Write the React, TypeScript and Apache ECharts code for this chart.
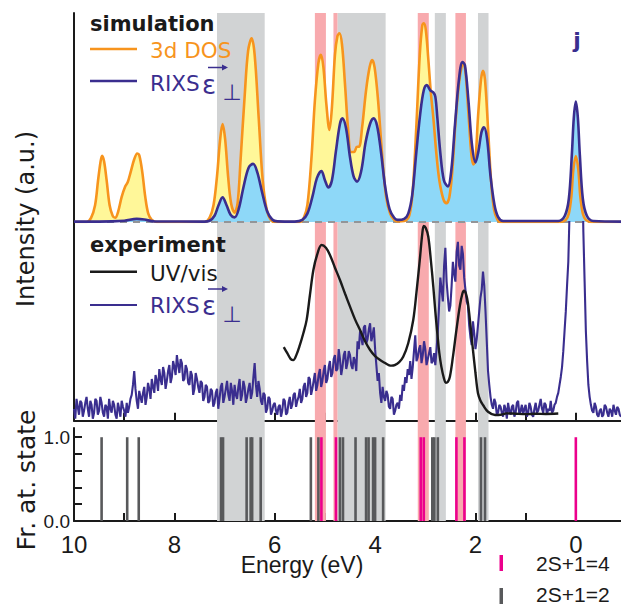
import React, { useEffect, useRef } from 'react';
import * as echarts from 'echarts';

// ---------- axis ranges / ticks ----------
const E_MIN = -0.9;
const E_MAX = 10;
const xTickValues = [0, 1, 2, 3, 4, 5, 6, 7, 8, 9, 10];
const xLabelValues = [0, 2, 4, 6, 8, 10];
const yStickTicks = [0, 0.2, 0.4, 0.6, 0.8, 1.0];
const yStickLabels = [0, 1];

// ---------- shaded bands (eV ranges) ----------
const grayBands: [number, number][] = [[7.15, 6.2], [4.75, 3.79], [2.81, 2.59], [1.95, 1.74]];
const pinkBands: [number, number][] = [[5.2, 4.98], [4.83, 4.75], [3.15, 2.93], [2.4, 2.19]];

// ---------- simulation: 3d DOS ----------
const dosSim: [number, number][] = [
  [10.0, 0], [9.75, 0], [9.66, 0.02], [9.58, 0.08], [9.52, 0.2], [9.47, 0.29], [9.44, 0.317], [9.4, 0.29], [9.35, 0.2], [9.29, 0.08], [9.23, 0.03], [9.18, 0.02], [9.12, 0.05], [9.05, 0.12], [8.98, 0.17], [8.93, 0.19], [8.87, 0.24], [8.8, 0.3], [8.74, 0.328], [8.7, 0.32], [8.64, 0.24], [8.58, 0.12], [8.52, 0.04], [8.45, 0.01], [8.35, 0],
  [7.4, 0], [7.3, 0.02], [7.22, 0.08], [7.15, 0.22], [7.09, 0.39], [7.04, 0.469], [6.99, 0.4], [6.93, 0.22], [6.87, 0.09], [6.8, 0.045], [6.74, 0.09], [6.68, 0.3], [6.6, 0.6], [6.53, 0.82], [6.46, 0.879], [6.4, 0.8], [6.32, 0.5], [6.24, 0.2], [6.16, 0.06], [6.08, 0.01], [6.0, 0],
  [5.5, 0], [5.42, 0.02], [5.35, 0.08], [5.27, 0.3], [5.2, 0.58], [5.13, 0.76], [5.08, 0.8], [5.03, 0.74], [4.97, 0.56], [4.91, 0.44], [4.86, 0.55], [4.8, 0.8], [4.75, 0.89], [4.71, 0.903], [4.66, 0.85], [4.6, 0.66], [4.54, 0.45], [4.48, 0.335], [4.42, 0.335], [4.36, 0.36], [4.32, 0.36], [4.26, 0.45], [4.18, 0.63], [4.11, 0.74], [4.06, 0.775], [4.01, 0.74], [3.94, 0.58], [3.86, 0.32], [3.78, 0.12], [3.7, 0.04], [3.62, 0.01], [3.55, 0.003], [3.42, 0.005],
  [3.32, 0.03], [3.25, 0.15], [3.18, 0.45], [3.11, 0.8], [3.06, 0.94], [3.03, 0.951], [2.99, 0.92], [2.94, 0.78], [2.89, 0.62], [2.84, 0.5], [2.78, 0.33], [2.72, 0.2], [2.64, 0.11], [2.58, 0.09], [2.52, 0.12], [2.46, 0.25], [2.4, 0.47], [2.33, 0.66], [2.27, 0.75], [2.24, 0.76], [2.2, 0.72], [2.14, 0.52], [2.08, 0.32], [2.04, 0.275], [2.0, 0.3], [1.95, 0.5], [1.89, 0.68], [1.85, 0.724], [1.81, 0.68], [1.75, 0.45], [1.69, 0.2], [1.63, 0.06], [1.56, 0.01], [1.5, 0],
  [0.3, 0], [0.2, 0.01], [0.14, 0.04], [0.09, 0.12], [0.05, 0.25], [0.0, 0.316], [-0.05, 0.25], [-0.09, 0.12], [-0.14, 0.04], [-0.2, 0.01], [-0.3, 0], [-0.9, 0],
];

// ---------- simulation: RIXS ----------
const rixsSim: [number, number][] = [
  [10.0, 0.002], [9.5, 0.002], [9.0, 0.006], [8.75, 0.015], [8.6, 0.012], [8.4, 0.003], [7.4, 0.002],
  [7.3, 0.006], [7.2, 0.03], [7.12, 0.08], [7.04, 0.118], [6.96, 0.08], [6.88, 0.035], [6.8, 0.022], [6.72, 0.06], [6.62, 0.17], [6.52, 0.26], [6.43, 0.278], [6.35, 0.24], [6.25, 0.14], [6.15, 0.05], [6.05, 0.012], [5.95, 0.003], [5.6, 0.002],
  [5.45, 0.01], [5.35, 0.04], [5.25, 0.12], [5.16, 0.21], [5.07, 0.244], [5.0, 0.2], [4.93, 0.165], [4.86, 0.2], [4.78, 0.34], [4.7, 0.47], [4.65, 0.496], [4.58, 0.45], [4.5, 0.31], [4.43, 0.22], [4.36, 0.193], [4.28, 0.24], [4.19, 0.38], [4.1, 0.47], [4.03, 0.496], [3.96, 0.46], [3.88, 0.33], [3.8, 0.17], [3.71, 0.06], [3.62, 0.02], [3.55, 0.01], [3.42, 0.015],
  [3.34, 0.04], [3.26, 0.13], [3.18, 0.33], [3.1, 0.52], [3.03, 0.63], [2.97, 0.655], [2.9, 0.63], [2.84, 0.62], [2.8, 0.6], [2.76, 0.5], [2.7, 0.33], [2.63, 0.2], [2.55, 0.17], [2.48, 0.25], [2.41, 0.46], [2.33, 0.68], [2.26, 0.765], [2.21, 0.75], [2.14, 0.58], [2.07, 0.37], [2.0, 0.285], [1.94, 0.34], [1.88, 0.43], [1.83, 0.453], [1.77, 0.4], [1.7, 0.22], [1.62, 0.08], [1.55, 0.025], [1.45, 0.005],
  [0.35, 0.005], [0.22, 0.03], [0.14, 0.11], [0.08, 0.32], [0.04, 0.5], [0.0, 0.576], [-0.04, 0.5], [-0.08, 0.32], [-0.14, 0.11], [-0.22, 0.03], [-0.35, 0.005], [-0.9, 0.002],
];

// ---------- experiment: UV/vis ----------
const uvVis: [number, number][] = [
  [5.82, 0.37], [5.75, 0.34], [5.68, 0.31], [5.63, 0.305], [5.57, 0.33], [5.5, 0.38], [5.43, 0.44], [5.365, 0.506], [5.3, 0.63], [5.23, 0.758], [5.15, 0.84], [5.066, 0.884], [4.98, 0.87], [4.9, 0.834], [4.8, 0.77], [4.7, 0.708], [4.6, 0.64], [4.5, 0.574], [4.4, 0.51], [4.3, 0.456], [4.2, 0.4], [4.1, 0.356], [4.0, 0.325], [3.9, 0.305], [3.8, 0.29], [3.73, 0.28], [3.67, 0.277], [3.61, 0.28], [3.52, 0.295], [3.44, 0.322], [3.34, 0.39], [3.24, 0.507], [3.17, 0.66], [3.11, 0.808], [3.06, 0.94], [3.03, 0.98], [2.99, 0.97], [2.94, 0.926], [2.89, 0.81], [2.84, 0.674], [2.8, 0.55], [2.76, 0.44], [2.72, 0.34], [2.68, 0.272], [2.63, 0.215], [2.59, 0.191], [2.55, 0.195], [2.51, 0.221], [2.45, 0.32], [2.38, 0.456], [2.31, 0.58], [2.26, 0.64], [2.23, 0.654], [2.19, 0.64], [2.15, 0.591], [2.1, 0.48], [2.05, 0.356], [2.0, 0.24], [1.95, 0.138], [1.9, 0.1], [1.85, 0.079], [1.75, 0.045], [1.61, 0.029], [1.5, 0.03], [1.38, 0.037], [1.2, 0.035], [1.0, 0.033], [0.8, 0.035], [0.6, 0.034], [0.35, 0.036],
];

// ---------- experiment: RIXS (noisy, read point by point) ----------
const rixsExp: [number, number][] = [
  [10.0, 0.06], [9.975, 0.01], [9.95, 0.11], [9.925, 0.07], [9.9, 0.03], [9.875, 0.1], [9.85, 0.09], [9.825, 0.02], [9.8, 0.05], [9.775, 0.09], [9.75, 0.12], [9.725, 0.06], [9.7, 0.02], [9.675, 0.1], [9.65, 0.08], [9.625, 0.01], [9.6, 0.04], [9.575, 0.11], [9.55, 0.1], [9.525, 0.03],
  [9.5, 0.05], [9.475, 0.12], [9.45, 0.09], [9.425, 0.04], [9.4, 0.02], [9.375, 0.08], [9.35, 0.07], [9.325, 0.01], [9.3, 0.11], [9.275, 0.06], [9.25, 0.04], [9.225, 0.1], [9.2, 0.08], [9.175, 0.03], [9.15, 0.01], [9.125, 0.09], [9.1, 0.06], [9.075, 0.02], [9.05, 0.1], [9.025, 0.07],
  [9.0, 0.05], [8.975, 0.02], [8.95, 0.09], [8.925, 0.04], [8.9, 0.07], [8.875, 0.11], [8.85, 0.13], [8.825, 0.18], [8.8, 0.25], [8.775, 0.16], [8.75, 0.1], [8.725, 0.06], [8.7, 0.15], [8.675, 0.12], [8.65, 0.09], [8.625, 0.14], [8.6, 0.17], [8.575, 0.08], [8.55, 0.12], [8.525, 0.19],
  [8.5, 0.16], [8.475, 0.11], [8.45, 0.21], [8.425, 0.17], [8.4, 0.14], [8.375, 0.23], [8.35, 0.2], [8.325, 0.15], [8.3, 0.26], [8.275, 0.21], [8.25, 0.18], [8.225, 0.27], [8.2, 0.24], [8.175, 0.16], [8.15, 0.2], [8.125, 0.25], [8.1, 0.28], [8.075, 0.19], [8.05, 0.22], [8.025, 0.3],
  [8.0, 0.27], [7.975, 0.23], [7.95, 0.33], [7.925, 0.28], [7.9, 0.24], [7.875, 0.31], [7.85, 0.29], [7.825, 0.2], [7.8, 0.21], [7.775, 0.28], [7.75, 0.26], [7.725, 0.19], [7.7, 0.18], [7.675, 0.25], [7.65, 0.23], [7.625, 0.13], [7.6, 0.16], [7.575, 0.24], [7.55, 0.21], [7.525, 0.17],
  [7.5, 0.14], [7.475, 0.2], [7.45, 0.19], [7.425, 0.1], [7.4, 0.12], [7.375, 0.18], [7.35, 0.17], [7.325, 0.09], [7.3, 0.1], [7.275, 0.16], [7.25, 0.15], [7.225, 0.07], [7.2, 0.09], [7.175, 0.14], [7.15, 0.16], [7.125, 0.06], [7.1, 0.11], [7.075, 0.17], [7.05, 0.19], [7.025, 0.09],
  [7.0, 0.12], [6.975, 0.16], [6.95, 0.2], [6.925, 0.13], [6.9, 0.1], [6.875, 0.19], [6.85, 0.15], [6.825, 0.08], [6.8, 0.18], [6.775, 0.13], [6.75, 0.11], [6.725, 0.17], [6.7, 0.21], [6.675, 0.1], [6.65, 0.13], [6.625, 0.2], [6.6, 0.17], [6.575, 0.09], [6.55, 0.12], [6.525, 0.16],
  [6.5, 0.19], [6.475, 0.11], [6.45, 0.14], [6.425, 0.22], [6.4, 0.29], [6.375, 0.18], [6.35, 0.12], [6.325, 0.2], [6.3, 0.16], [6.275, 0.1], [6.25, 0.08], [6.225, 0.14], [6.2, 0.13], [6.175, 0.04], [6.15, 0.06], [6.125, 0.12], [6.1, 0.11], [6.075, 0.03], [6.05, 0.05], [6.025, 0.08],
  [6.0, 0.09], [5.975, 0.05], [5.95, 0.03], [5.925, 0.07], [5.9, 0.08], [5.875, 0.02], [5.85, 0.05], [5.825, 0.11], [5.8, 0.1], [5.775, 0.03], [5.75, 0.04], [5.725, 0.09], [5.7, 0.12], [5.675, 0.06], [5.65, 0.08], [5.625, 0.13], [5.6, 0.14], [5.575, 0.07], [5.55, 0.1], [5.525, 0.12],
  [5.5, 0.16], [5.475, 0.09], [5.45, 0.11], [5.425, 0.17], [5.4, 0.19], [5.375, 0.12], [5.35, 0.14], [5.325, 0.22], [5.3, 0.21], [5.275, 0.13], [5.25, 0.16], [5.225, 0.2], [5.2, 0.24], [5.175, 0.15], [5.15, 0.18], [5.125, 0.23], [5.1, 0.26], [5.075, 0.17], [5.05, 0.2], [5.025, 0.25],
  [5.0, 0.28], [4.975, 0.19], [4.95, 0.21], [4.925, 0.27], [4.9, 0.3], [4.875, 0.22], [4.85, 0.24], [4.825, 0.31], [4.8, 0.33], [4.775, 0.25], [4.75, 0.26], [4.725, 0.36], [4.7, 0.31], [4.675, 0.23], [4.65, 0.27], [4.625, 0.33], [4.6, 0.35], [4.575, 0.26], [4.55, 0.29], [4.525, 0.35],
  [4.5, 0.33], [4.475, 0.28], [4.45, 0.26], [4.425, 0.32], [4.4, 0.3], [4.375, 0.25], [4.35, 0.4], [4.325, 0.36], [4.3, 0.45], [4.275, 0.42], [4.25, 0.38], [4.225, 0.47], [4.2, 0.48], [4.175, 0.39], [4.15, 0.41], [4.125, 0.46], [4.1, 0.49], [4.075, 0.4], [4.05, 0.43], [4.025, 0.47],
  [4.0, 0.36], [3.975, 0.28], [3.95, 0.2], [3.925, 0.24], [3.9, 0.14], [3.875, 0.09], [3.85, 0.17], [3.825, 0.12], [3.8, 0.1], [3.775, 0.15], [3.75, 0.13], [3.725, 0.07], [3.7, 0.06], [3.675, 0.12], [3.65, 0.11], [3.625, 0.03], [3.6, 0.05], [3.575, 0.08], [3.55, 0.09], [3.525, 0.06],
  [3.5, 0.13], [3.475, 0.1], [3.45, 0.18], [3.425, 0.15], [3.4, 0.22], [3.375, 0.19], [3.35, 0.26], [3.325, 0.23], [3.3, 0.3], [3.275, 0.21], [3.25, 0.27], [3.225, 0.35], [3.2, 0.43], [3.175, 0.3], [3.15, 0.32], [3.125, 0.36], [3.1, 0.38], [3.075, 0.29], [3.05, 0.33], [3.025, 0.4],
  [3.0, 0.36], [2.975, 0.28], [2.95, 0.31], [2.925, 0.34], [2.9, 0.37], [2.875, 0.29], [2.85, 0.3], [2.825, 0.34], [2.8, 0.28], [2.775, 0.36], [2.75, 0.45], [2.725, 0.58], [2.7, 0.72], [2.675, 0.66], [2.65, 0.6], [2.625, 0.78], [2.6, 0.87], [2.575, 0.7], [2.55, 0.62], [2.525, 0.55],
  [2.5, 0.58], [2.475, 0.68], [2.45, 0.8], [2.425, 0.74], [2.4, 0.7], [2.375, 0.85], [2.35, 0.9], [2.325, 0.78], [2.3, 0.76], [2.275, 0.88], [2.25, 0.84], [2.225, 0.72], [2.2, 0.66], [2.175, 0.6], [2.15, 0.58], [2.125, 0.48], [2.1, 0.42], [2.075, 0.38], [2.05, 0.5], [2.025, 0.44],
  [2.0, 0.36], [1.975, 0.41], [1.95, 0.48], [1.925, 0.55], [1.9, 0.62], [1.875, 0.66], [1.85, 0.75], [1.825, 0.68], [1.8, 0.55], [1.775, 0.4], [1.75, 0.25], [1.725, 0.18], [1.7, 0.12], [1.675, 0.08], [1.65, 0.06], [1.625, 0.11], [1.6, 0.09], [1.575, 0.03], [1.55, 0.04], [1.525, 0.08],
  [1.5, 0.07], [1.475, 0.04], [1.45, 0.02], [1.425, 0.08], [1.4, 0.06], [1.375, 0.01], [1.35, 0.09], [1.325, 0.05], [1.3, 0.03], [1.275, 0.07], [1.25, 0.08], [1.225, 0.02], [1.2, 0.04], [1.175, 0.09], [1.15, 0.1], [1.125, 0.03], [1.1, 0.05], [1.075, 0.08], [1.05, 0.03], [1.025, 0.06],
  [1.0, 0.08], [0.975, 0.02], [0.95, 0.04], [0.925, 0.09], [0.9, 0.07], [0.875, 0.03], [0.85, 0.02], [0.825, 0.06], [0.8, 0.09], [0.775, 0.04], [0.75, 0.05], [0.725, 0.08], [0.7, 0.11], [0.675, 0.06], [0.65, 0.04], [0.625, 0.09], [0.6, 0.08], [0.575, 0.03], [0.55, 0.06], [0.525, 0.05],
  [0.5, 0.1], [0.475, 0.04], [0.45, 0.05], [0.425, 0.08], [0.4, 0.09], [0.375, 0.12], [0.35, 0.14], [0.325, 0.18], [0.3, 0.22], [0.275, 0.27], [0.25, 0.35], [0.225, 0.45], [0.2, 0.55], [0.175, 0.68], [0.15, 0.8], [0.125, 1.05], [0.1, 1.4], [0.075, 1.7], [0.05, 2.0], [0.025, 2.2],
  [0.0, 2.4], [-0.025, 2.35], [-0.05, 2.2], [-0.075, 1.9], [-0.1, 1.6], [-0.125, 1.3], [-0.15, 0.95], [-0.175, 0.7], [-0.2, 0.45], [-0.225, 0.3], [-0.25, 0.18], [-0.275, 0.12], [-0.3, 0.08], [-0.325, 0.05], [-0.35, 0.04], [-0.375, 0.09], [-0.4, 0.07], [-0.425, 0.03], [-0.45, 0.02], [-0.475, 0.05],
  [-0.5, 0.06], [-0.525, 0.02], [-0.55, 0.03], [-0.575, 0.08], [-0.6, 0.07], [-0.625, 0.04], [-0.65, 0.02], [-0.675, 0.06], [-0.7, 0.05], [-0.725, 0.02], [-0.75, 0.08], [-0.775, 0.05], [-0.8, 0.03], [-0.825, 0.07], [-0.85, 0.06], [-0.875, 0.03], [-0.9, 0.02],
];

// ---------- stick spectrum (fraction of atomic state) ----------
const quartetSticks: [number, number][] = [
  [5.07, 1], [4.78, 1], [3.09, 1], [3.03, 1], [2.38, 1], [2.22, 1], [0.0, 1],
];
const doubletSticks: [number, number][] = [
  [9.45, 1], [8.94, 1], [8.71, 1], [7.07, 1], [7.03, 1], [6.56, 1], [6.48, 1], [6.45, 1], [6.28, 1], [5.28, 1], [5.13, 1],
  [4.7, 1], [4.64, 1], [4.39, 1], [4.18, 1], [4.13, 1], [4.04, 1], [4.0, 1], [3.84, 1], [2.86, 1], [2.82, 1], [2.75, 1],
  [1.89, 1], [1.81, 1],
];

const ORANGE = '#f7941d';
const YELLOW = '#fff799';
const LIGHTBLUE = '#8ed8f8';
const DARKBLUE = '#3a2e8f';
const GRAYBAND = '#d1d3d4';
const PINKBAND = '#f8aaae';
const STICKGRAY = '#58595b';
const MAGENTA = '#ec008c';
const DASH = '#939598';
const BLACK = '#1a1a1a';

const LEFT = 74;

function xAxisFor(gridIndex: number, show: boolean, showLabels: boolean) {
  return {
    type: 'value',
    gridIndex,
    min: E_MIN,
    max: E_MAX,
    inverse: true,
    show,
    splitLine: { show: false },
    axisLine: { show, onZero: false, lineStyle: { color: BLACK, width: 2 } },
    axisTick: {
      show,
      inside: true,
      length: 8,
      customValues: xTickValues,
      lineStyle: { color: BLACK, width: 2 },
    },
    axisLabel: {
      show: showLabels,
      customValues: xLabelValues,
      formatter: (v: number) => String(v),
      fontFamily: 'Liberation Sans',
      fontSize: 24,
      color: BLACK,
      margin: 11,
    },
  };
}

function plainY(gridIndex: number, max: number, show: boolean) {
  return {
    type: 'value',
    gridIndex,
    min: 0,
    max,
    show,
    splitLine: { show: false },
    axisLine: { show, onZero: false, lineStyle: { color: BLACK, width: 2 } },
    axisTick: { show: false },
    axisLabel: { show: false },
  };
}

function stickSeries(data: [number, number][], color: string) {
  return {
    type: 'custom',
    xAxisIndex: 3,
    yAxisIndex: 3,
    data,
    z: 5,
    renderItem: (params: any, api: any) => {
      const e = api.value(0);
      const top = api.coord([e, api.value(1)]);
      const bot = api.coord([e, 0]);
      return {
        type: 'line',
        shape: { x1: top[0], y1: top[1], x2: bot[0], y2: bot[1] },
        style: { stroke: color, lineWidth: 2.6 },
      };
    },
  };
}

const TOPZ = 100;

function rixsLabel(x: number, yc: number) {
  return [
    { type: 'text', z: TOPZ, style: { text: 'RIXS', x, y: yc, fill: DARKBLUE, font: '21.5px "DejaVu Sans"', verticalAlign: 'middle' } },
    { type: 'text', z: TOPZ, style: { text: 'ε', x: x + 52, y: yc + 1, fill: DARKBLUE, font: '26px "DejaVu Sans"', verticalAlign: 'middle' } },
    { type: 'line', z: TOPZ, shape: { x1: x + 58, y1: yc - 16, x2: x + 76, y2: yc - 16 }, style: { stroke: DARKBLUE, lineWidth: 1.5 } },
    { type: 'polygon', z: TOPZ, shape: { points: [[x + 78, yc - 16], [x + 72, yc - 19], [x + 72, yc - 13]] }, style: { fill: DARKBLUE } },
    { type: 'text', z: TOPZ, style: { text: '⊥', x: x + 82, y: yc + 9, fill: DARKBLUE, font: '22px "DejaVu Sans"', align: 'center', verticalAlign: 'middle' } },
  ];
}

export default function App() {
  const ref = useRef<HTMLDivElement>(null);
  useEffect(() => {
    if (!ref.current) return;
    const chart = echarts.init(ref.current, undefined, { renderer: 'svg' });
    const bandData = [
      ...grayBands.map((b) => [{ xAxis: b[0], itemStyle: { color: GRAYBAND } }, { xAxis: b[1] }]),
      ...pinkBands.map((b) => [{ xAxis: b[0], itemStyle: { color: PINKBAND } }, { xAxis: b[1] }]),
    ];
    const option: any = {
      animation: false,
      backgroundColor: '#ffffff',
      grid: [
        { left: LEFT, right: 0, top: 13, height: 508 },
        { left: LEFT, right: 0, top: 13, height: 209 },
        { left: LEFT, right: 0, top: 222, height: 198.7 },
        { left: LEFT, right: 0, top: 428, height: 93 },
      ],
      xAxis: [
        xAxisFor(0, false, false),
        xAxisFor(1, false, false),
        xAxisFor(2, true, false),
        xAxisFor(3, true, true),
      ],
      yAxis: [
        plainY(0, 1, false),
        plainY(1, 1, true),
        plainY(2, 1, true),
        {
          type: 'value',
          gridIndex: 3,
          min: 0,
          max: 1.11,
          splitLine: { show: false },
          axisLine: { show: true, onZero: false, lineStyle: { color: BLACK, width: 2 } },
          axisTick: { show: true, inside: true, length: 8, customValues: yStickTicks, lineStyle: { color: BLACK, width: 2 } },
          axisLabel: {
            show: true,
            customValues: yStickLabels,
            formatter: (v: number) => v.toFixed(1),
            fontFamily: 'Liberation Sans',
            fontSize: 19,
            color: BLACK,
            margin: 4,
          },
        },
      ],
      series: [
        {
          type: 'line',
          xAxisIndex: 0,
          yAxisIndex: 0,
          data: [],
          z: -1,
          silent: true,
          markArea: { silent: true, data: bandData, itemStyle: { opacity: 1 } },
        },
        {
          type: 'line', xAxisIndex: 1, yAxisIndex: 1, data: dosSim, smooth: 0.35, showSymbol: false, z: 2,
          lineStyle: { width: 0, opacity: 0 }, areaStyle: { color: YELLOW, opacity: 1 },
        },
        {
          type: 'line', xAxisIndex: 1, yAxisIndex: 1, data: rixsSim, smooth: 0.35, showSymbol: false, z: 3,
          lineStyle: { width: 0, opacity: 0 }, areaStyle: { color: LIGHTBLUE, opacity: 1 },
        },
        {
          type: 'line', xAxisIndex: 1, yAxisIndex: 1, data: [], z: 4,
          markLine: {
            silent: true, symbol: ['none', 'none'], label: { show: false },
            lineStyle: { type: [7, 6], color: DASH, width: 2 },
            data: [{ yAxis: 0 }],
          },
        },
        {
          type: 'line', xAxisIndex: 1, yAxisIndex: 1, data: dosSim, smooth: 0.35, showSymbol: false, z: 5,
          lineStyle: { width: 2.6, color: ORANGE },
        },
        {
          type: 'line', xAxisIndex: 1, yAxisIndex: 1, data: rixsSim, smooth: 0.35, showSymbol: false, z: 6,
          lineStyle: { width: 2.6, color: DARKBLUE },
        },
        {
          type: 'line', xAxisIndex: 2, yAxisIndex: 2, data: rixsExp, showSymbol: false, z: 5, clip: true,
          lineStyle: { width: 2.1, color: DARKBLUE },
        },
        {
          type: 'line', xAxisIndex: 2, yAxisIndex: 2, data: uvVis, smooth: 0.35, showSymbol: false, z: 6,
          lineStyle: { width: 2.4, color: BLACK },
        },
        stickSeries(doubletSticks, STICKGRAY),
        stickSeries(quartetSticks, MAGENTA),
      ],
      graphic: [
        { type: 'text', z: TOPZ, style: { text: 'simulation', x: 90, y: 24, fill: BLACK, font: 'bold 21px "DejaVu Sans"', verticalAlign: 'middle' } },
        { type: 'line', z: TOPZ, shape: { x1: 90, y1: 49, x2: 137, y2: 49 }, style: { stroke: ORANGE, lineWidth: 2.6 } },
        { type: 'text', z: TOPZ, style: { text: '3d DOS', x: 150, y: 50, fill: ORANGE, font: '21.5px "DejaVu Sans"', verticalAlign: 'middle' } },
        { type: 'line', z: TOPZ, shape: { x1: 90, y1: 81, x2: 137, y2: 81 }, style: { stroke: DARKBLUE, lineWidth: 2.6 } },
        ...rixsLabel(150, 83.5),
        { type: 'text', z: TOPZ, style: { text: 'j', x: 577, y: 40, fill: DARKBLUE, font: 'bold 22px "DejaVu Sans"', align: 'center', verticalAlign: 'middle' } },

        { type: 'text', z: TOPZ, style: { text: 'experiment', x: 90, y: 245, fill: BLACK, font: 'bold 21px "DejaVu Sans"', verticalAlign: 'middle' } },
        { type: 'line', z: TOPZ, shape: { x1: 90, y1: 271.7, x2: 137, y2: 271.7 }, style: { stroke: BLACK, lineWidth: 2.4 } },
        { type: 'text', z: TOPZ, style: { text: 'UV/vis', x: 150, y: 273, fill: BLACK, font: '21.5px "DejaVu Sans"', verticalAlign: 'middle' } },
        { type: 'line', z: TOPZ, shape: { x1: 90, y1: 305, x2: 137, y2: 305 }, style: { stroke: DARKBLUE, lineWidth: 2.2 } },
        ...rixsLabel(150, 305),

        { type: 'text', z: TOPZ, x: 26, y: 219, rotation: Math.PI / 2, style: { text: 'Intensity (a.u.)', x: 0, y: 0, fill: BLACK, font: '24px "DejaVu Sans"', align: 'center', verticalAlign: 'middle' } },
        { type: 'text', z: TOPZ, x: 26, y: 480, rotation: Math.PI / 2, style: { text: 'Fr. at. state', x: 0, y: 0, fill: BLACK, font: '25px "DejaVu Sans"', align: 'center', verticalAlign: 'middle' } },
        { type: 'text', z: TOPZ, style: { text: 'Energy (eV)', x: 302, y: 565, fill: BLACK, font: '23px "Liberation Sans"', align: 'center', verticalAlign: 'middle' } },

        { type: 'rect', z: TOPZ, shape: { x: 499.5, y: 555, width: 3.5, height: 16 }, style: { fill: MAGENTA } },
        { type: 'text', z: TOPZ, style: { text: '2S+1=4', x: 536, y: 563, fill: BLACK, font: '21px "Liberation Sans"', verticalAlign: 'middle' } },
        { type: 'rect', z: TOPZ, shape: { x: 499.5, y: 588, width: 3.5, height: 16 }, style: { fill: STICKGRAY } },
        { type: 'text', z: TOPZ, style: { text: '2S+1=2', x: 536, y: 594, fill: BLACK, font: '21px "Liberation Sans"', verticalAlign: 'middle' } },
      ],
    };
    chart.setOption(option);
    return () => chart.dispose();
  }, []);
  return <div ref={ref} style={{ position: 'absolute', left: 0, top: 0, width: 621, height: 606, background: '#fff' }} />;
}
